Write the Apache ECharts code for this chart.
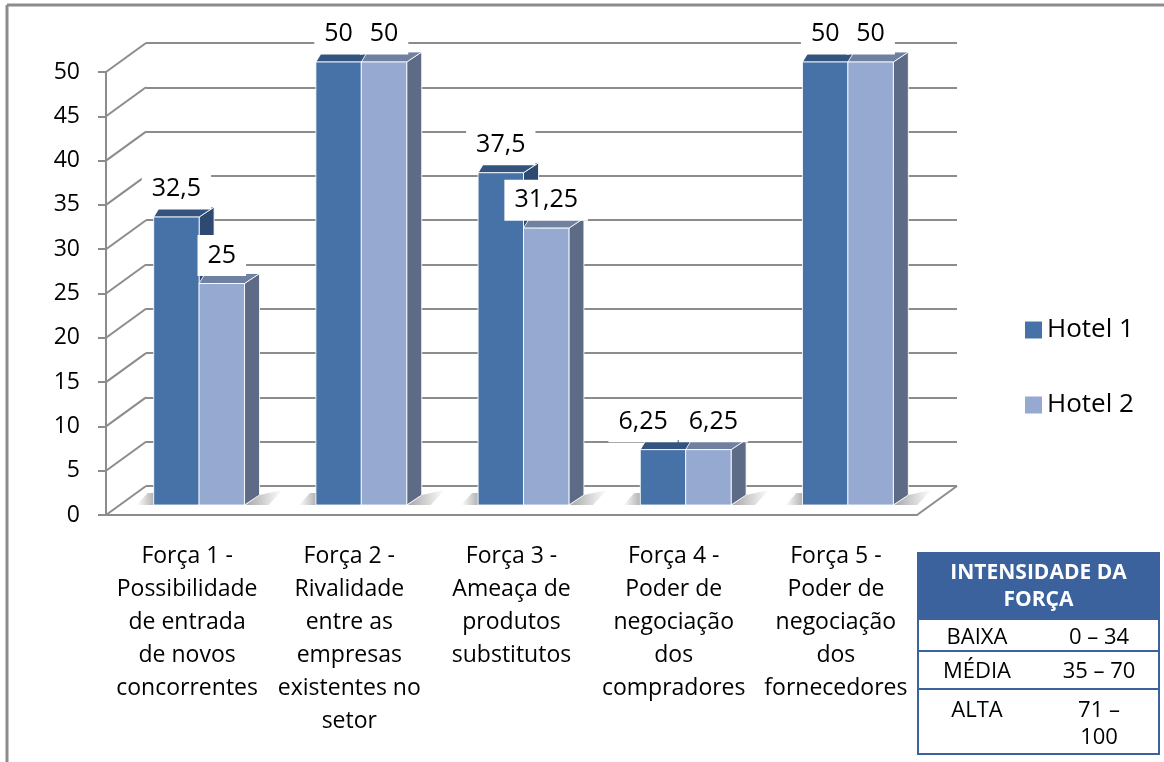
<!DOCTYPE html>
<html>
<head>
<meta charset="utf-8">
<script src="https://cdn.jsdelivr.net/npm/echarts@6/dist/echarts.min.js"></script>
<style>
  html, body { margin: 0; padding: 0; background: #fff; }
  #chart { width: 1164px; height: 762px; }
</style>
</head>
<body>
<div id="chart"></div>
<script>
// data
const categories = [
  'Força 1 -\nPossibilidade\nde entrada\nde novos\nconcorrentes',
  'Força 2 -\nRivalidade\nentre as\nempresas\nexistentes no\nsetor',
  'Força 3 -\nAmeaça de\nprodutos\nsubstitutos',
  'Força 4 -\nPoder de\nnegociação\ndos\ncompradores',
  'Força 5 -\nPoder de\nnegociação\ndos\nfornecedores'
]
const seriesNames = ['Hotel 1', 'Hotel 2']
const hotel1 = [32.5, 50, 37.5, 6.25, 50]
const hotel2 = [25, 50, 31.25, 6.25, 50]
const yTicks = [0, 5, 10, 15, 20, 25, 30, 35, 40, 45, 50]

const tableTitle = 'INTENSIDADE DA\nFORÇA'
const tableLevels = ['BAIXA', 'MÉDIA', 'ALTA']
const tableRanges = ['0 – 34', '35 – 70', '71 –\n100']

const FONT = '"Open Sans", sans-serif'
const GRID_COLOR = '#8c8c8c'
const LABEL_SIZE = 25
// 3d projection offsets (px)
const WALL_DX = 40, WALL_DY = 29
const BAR_SHIFT_X = 12, BAR_SHIFT_Y = 10
const DEPTH_DX = 15, DEPTH_DY = 10

const palettes = [
  { front: '#4672a8', top: '#34547f', side: '#2f4a70' },
  { front: '#95a9d1', top: '#6f80a0', side: '#5d6b87' }
]

function fmt(v) {
  return String(v).replace('.', ',')
}

const measureCtx = document.createElement('canvas').getContext('2d')
function textWidth(s) {
  measureCtx.font = LABEL_SIZE + 'px ' + FONT
  return measureCtx.measureText(s).width
}

function frameRender(params, api) {
  const cs = params.coordSys
  const p = api.coord([0, api.value(1)])
  const x = cs.x, y = p[1]
  const children = [{
    type: 'line',
    shape: { x1: x, y1: y, x2: x + WALL_DX, y2: y - WALL_DY },
    style: { stroke: GRID_COLOR, lineWidth: 2 }
  }]
  if (params.dataIndex === 0) {
    const xr = cs.x + cs.width
    children.push({
      type: 'line',
      shape: { x1: xr, y1: y, x2: xr + WALL_DX, y2: y - WALL_DY },
      style: { stroke: GRID_COLOR, lineWidth: 2 }
    })
  }
  return { type: 'group', children }
}

function barRender(side) {
  const pal = palettes[side]
  return function (params, api) {
    const i = api.value(0), v = api.value(1)
    const top = api.coord([i, v])
    const base = api.coord([i, 0])
    const bw = api.size([1, 0])[0] * 0.28
    const cx = top[0] + BAR_SHIFT_X
    const x0 = side === 0 ? cx - bw : cx
    const x1 = x0 + bw
    const yT = top[1] - BAR_SHIFT_Y
    const yB = base[1] - BAR_SHIFT_Y
    const edge = { stroke: 'rgba(255,255,255,0.85)', lineWidth: 1 }
    const children = []
    if (side === 0) {
      const gx0 = cx - bw, gx1 = cx + bw
      children.push({
        type: 'polygon',
        shape: { points: [[gx0 - 17, yB], [gx0, yB], [gx0, yB - 12], [gx0 - 6, yB - 12]] },
        style: {
          fill: new echarts.graphic.LinearGradient(0, 0, 1, 0, [
            { offset: 0, color: 'rgba(0,0,0,0)' }, { offset: 1, color: 'rgba(0,0,0,0.3)' }
          ])
        }
      })
      children.push({
        type: 'polygon',
        shape: { points: [[gx1 + 1, yB], [gx1 + DEPTH_DX, yB - DEPTH_DY], [gx1 + 38, yB - 15], [gx1 + 24, yB]] },
        style: {
          fill: new echarts.graphic.LinearGradient(0, 0, 1, 0, [
            { offset: 0, color: 'rgba(0,0,0,0.35)' }, { offset: 1, color: 'rgba(0,0,0,0)' }
          ])
        }
      })
    }
    children.push({
      type: 'polygon',
      shape: { points: [[x1, yT], [x1 + DEPTH_DX, yT - DEPTH_DY], [x1 + DEPTH_DX, yB - DEPTH_DY], [x1, yB]] },
      style: Object.assign({ fill: pal.side }, edge)
    })
    children.push({
      type: 'polygon',
      shape: { points: [[x0, yT], [x1, yT], [x1 + DEPTH_DX, yT - DEPTH_DY], [x0 + 6, yT - DEPTH_DY]] },
      style: Object.assign({ fill: pal.top }, edge)
    })
    children.push({
      type: 'rect',
      shape: { x: x0, y: yT, width: bw, height: yB - yT },
      style: Object.assign({ fill: pal.front }, edge)
    })
    return { type: 'group', children }
  }
}

// labels: [category, value, seriesIndex, valueOfOtherSeries]
function labelRender(params, api) {
  const i = api.value(0), v = api.value(1), s = api.value(2), other = api.value(3)
  const top = api.coord([i, v])
  const otherTop = api.coord([i, other])
  const bw = api.size([1, 0])[0] * 0.28
  const cx = top[0] + BAR_SHIFT_X
  let fx = s === 0 ? cx - bw / 2 : cx + bw / 2
  // nudge the pair apart when the two labels would collide
  if (Math.abs(top[1] - otherTop[1]) < 30) {
    const w0 = textWidth(fmt(s === 0 ? v : other))
    const w1 = textWidth(fmt(s === 0 ? other : v))
    const overlap = (cx - bw / 2 + w0 / 2) - (cx + bw / 2 - w1 / 2)
    if (overlap > -6) fx += s === 0 ? -(overlap + 16) : 5
  }
  return {
    type: 'text',
    style: {
      text: fmt(v), x: fx, y: top[1] - BAR_SHIFT_Y - 28,
      align: 'center', verticalAlign: 'middle',
      fontSize: LABEL_SIZE, fontFamily: FONT, fill: '#000',
      backgroundColor: '#fff', padding: [8, 10]
    }
  }
}

const labelData = []
hotel1.forEach((v, i) => labelData.push([i, v, 0, hotel2[i]]))
hotel2.forEach((v, i) => labelData.push([i, v, 1, hotel1[i]]))

// table drawn as graphic
const TX = 918, TW = 241, TY = 553
const rowTops = [620, 651, 689, 754]
const TABLE_BLUE = '#3c629d'
const tableGraphics = [
  { type: 'rect', shape: { x: TX, y: TY, width: TW, height: rowTops[0] - TY }, style: { fill: TABLE_BLUE } },
  { type: 'rect', shape: { x: TX, y: TY, width: TW, height: rowTops[3] - TY }, style: { fill: 'none', stroke: TABLE_BLUE, lineWidth: 2 } },
  {
    type: 'text', x: TX + TW / 2, y: (TY + rowTops[0]) / 2,
    style: { text: tableTitle, align: 'center', verticalAlign: 'middle', fontSize: 21, fontWeight: 'bold', fontFamily: FONT, fill: '#fff', lineHeight: 27 }
  }
]
for (let r = 0; r < 3; r++) {
  if (r > 0) {
    tableGraphics.push({ type: 'line', shape: { x1: TX, y1: rowTops[r], x2: TX + TW, y2: rowTops[r] }, style: { stroke: TABLE_BLUE, lineWidth: 2 } })
  }
  const multi = r === 2
  const yc = multi ? rowTops[r] + 8 : (rowTops[r] + rowTops[r + 1]) / 2 + 2
  tableGraphics.push({
    type: 'text', x: 977, y: yc,
    style: { text: tableLevels[r], align: 'center', verticalAlign: multi ? 'top' : 'middle', fontSize: 22, fontFamily: FONT, fill: '#000', lineHeight: 27 }
  })
  tableGraphics.push({
    type: 'text', x: 1099, y: yc,
    style: { text: tableRanges[r], align: 'center', verticalAlign: multi ? 'top' : 'middle', fontSize: 22, fontFamily: FONT, fill: '#000', lineHeight: 27 }
  })
}

const chart = echarts.init(document.getElementById('chart'))
chart.setOption({
  animation: false,
  backgroundColor: '#fff',
  textStyle: { fontFamily: FONT },
  grid: [
    { left: 106, top: 72, width: 811, height: 443 },
    { left: 106 + WALL_DX, top: 72 - WALL_DY, width: 811, height: 443 }
  ],
  legend: {
    data: seriesNames,
    orient: 'vertical',
    left: 1020, top: 312,
    itemWidth: 17, itemHeight: 17, itemGap: 49,
    icon: 'rect',
    textStyle: { fontSize: 26, color: '#000', fontFamily: FONT }
  },
  xAxis: [
    {
      gridIndex: 0, type: 'category', data: categories,
      axisLine: { lineStyle: { color: GRID_COLOR, width: 2 } },
      axisTick: { length: 8, lineStyle: { color: GRID_COLOR, width: 2 } },
      axisLabel: { interval: 0, fontSize: 23, lineHeight: 33, color: '#000', margin: 25 }
    },
    { gridIndex: 1, type: 'category', data: categories, show: false }
  ],
  yAxis: [
    {
      gridIndex: 0, type: 'value', min: 0, max: 50, interval: 5,
      axisLine: { show: true, lineStyle: { color: GRID_COLOR, width: 2 } },
      axisTick: { show: true, length: 8, lineStyle: { color: GRID_COLOR, width: 2 } },
      axisLabel: { fontSize: 23, color: '#000', margin: 26 },
      splitLine: { show: false }
    },
    {
      gridIndex: 1, type: 'value', min: 0, max: 50, interval: 5,
      axisLine: { show: false }, axisTick: { show: false }, axisLabel: { show: false },
      splitLine: { show: true, lineStyle: { color: GRID_COLOR, width: 2 } }
    }
  ],
  graphic: [
    { type: 'line', shape: { x1: 7, y1: 5, x2: 1164, y2: 5 }, style: { stroke: GRID_COLOR, lineWidth: 3 } },
    { type: 'line', shape: { x1: 7, y1: 5, x2: 7, y2: 762 }, style: { stroke: GRID_COLOR, lineWidth: 3 } }
  ].concat(tableGraphics),
  series: [
    {
      name: 'frame', type: 'custom', xAxisIndex: 0, yAxisIndex: 0, z: 1, silent: true,
      data: yTicks.map(t => [0, t]), encode: { x: 0, y: 1 }, renderItem: frameRender
    },
    {
      name: seriesNames[0], type: 'custom', z: 3,
      itemStyle: { color: palettes[0].front },
      data: hotel1.map((v, i) => [i, v]), encode: { x: 0, y: 1 }, renderItem: barRender(0)
    },
    {
      name: seriesNames[1], type: 'custom', z: 4,
      itemStyle: { color: palettes[1].front },
      data: hotel2.map((v, i) => [i, v]), encode: { x: 0, y: 1 }, renderItem: barRender(1)
    },
    {
      name: 'labels', type: 'custom', z: 10, silent: true,
      data: labelData, encode: { x: 0, y: 1 }, renderItem: labelRender
    }
  ]
})
</script>
</body>
</html>
